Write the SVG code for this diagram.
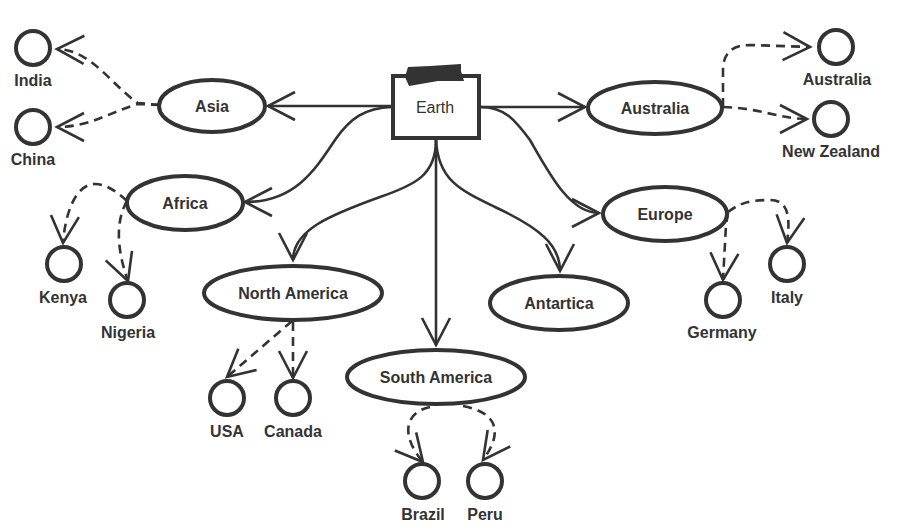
<svg xmlns="http://www.w3.org/2000/svg" width="903" height="532" viewBox="0 0 903 532">
<style>
.bg{fill:#ffffff}
.node{fill:#ffffff;stroke:#333333;stroke-width:4}
.lbl{font-family:"Liberation Sans",Arial,sans-serif;font-weight:bold;font-size:16px;fill:#333333;text-anchor:middle}
.title{font-family:"Liberation Sans",Arial,sans-serif;font-size:16px;fill:#333333;text-anchor:middle}
.solid{fill:none;stroke:#333333;stroke-width:2.6;marker-end:url(#arr)}
.dash{fill:none;stroke:#333333;stroke-width:2.6;stroke-dasharray:9 6;marker-end:url(#arr)}
</style>
<defs>
<marker id="arr" markerUnits="userSpaceOnUse" markerWidth="40" markerHeight="40" viewBox="-30 -20 40 40" refX="0" refY="0" orient="auto" overflow="visible">
<path d="M-27,-14 L0,0 L-27,14" fill="none" stroke="#333333" stroke-width="2.6" stroke-dasharray="none"/>
</marker>
</defs>
<rect class="bg" x="0" y="0" width="903" height="532"/>
<g id="connectors">
<path class="solid" d="M392,106 L268,106"/>
<path class="solid" d="M480,107 L585,107"/>
<path class="solid" d="M392,107 C365,108 350,118 335,140 C315,170 295,202 245,202"/>
<path class="solid" d="M436,140 C436,175 415,185 380,197 C330,215 293,230 293,260"/>
<path class="solid" d="M436,140 L436,345"/>
<path class="solid" d="M436,140 C438,180 460,190 495,207 C540,228 560,245 560,271"/>
<path class="solid" d="M480,107 C505,107 515,120 530,140 C550,175 570,213 599,213"/>
<path class="dash" d="M160,105 L138,103 C112,86 92,50 57,49"/>
<path class="dash" d="M160,105 L138,104 C110,112 90,127 57,127"/>
<path class="dash" d="M723,107 L723,70 Q723,45 750,45 L810,47"/>
<path class="dash" d="M723,107 C760,108 780,119 807,119"/>
<path class="dash" d="M127,201 C115,190 105,184 95,184 C75,184 65,215 63,243"/>
<path class="dash" d="M127,201 C117,218 115,245 128,281"/>
<path class="dash" d="M292,321 L227,377"/>
<path class="dash" d="M293,322 L293,378"/>
<path class="dash" d="M430,407 C405,412 400,435 423,462"/>
<path class="dash" d="M463,406 C495,412 505,430 483,460"/>
<path class="dash" d="M728,213 L726,225 L723,280"/>
<path class="dash" d="M728,212 C740,203 750,200 770,200 C790,200 790,220 787,243"/>
</g>
<g id="earth">
<rect class="node" x="393" y="76" width="86" height="62"/>
<polygon points="408,67 430,66 461,64 461,71 464,81 438,81 409,86 405,77" fill="#333333"/>
<text class="title" x="435" y="113">Earth</text>
</g>
<g id="asia"><ellipse class="node" cx="212" cy="106" rx="53" ry="26"/><text class="lbl" x="212" y="112">Asia</text></g>
<g id="australia"><ellipse class="node" cx="655" cy="108" rx="67" ry="26"/><text class="lbl" x="655" y="114">Australia</text></g>
<g id="africa"><ellipse class="node" cx="185" cy="203" rx="58" ry="27"/><text class="lbl" x="185" y="209">Africa</text></g>
<g id="europe"><ellipse class="node" cx="665" cy="214" rx="62" ry="27"/><text class="lbl" x="665" y="220">Europe</text></g>
<g id="north-america"><ellipse class="node" cx="293" cy="293" rx="89" ry="27"/><text class="lbl" x="293" y="299">North America</text></g>
<g id="antartica"><ellipse class="node" cx="559" cy="303" rx="69" ry="27"/><text class="lbl" x="559" y="309">Antartica</text></g>
<g id="south-america"><ellipse class="node" cx="436" cy="377" rx="89" ry="27"/><text class="lbl" x="436" y="383">South America</text></g>
<g id="india"><circle class="node" cx="33" cy="48" r="17"/><text class="lbl" x="33" y="86">India</text></g>
<g id="china"><circle class="node" cx="33" cy="127" r="17"/><text class="lbl" x="33" y="165">China</text></g>
<g id="australia-c"><circle class="node" cx="836" cy="47" r="17"/><text class="lbl" x="837" y="85">Australia</text></g>
<g id="new-zealand"><circle class="node" cx="831" cy="119" r="17"/><text class="lbl" x="831" y="157">New Zealand</text></g>
<g id="kenya"><circle class="node" cx="64" cy="264" r="17"/><text class="lbl" x="63" y="303">Kenya</text></g>
<g id="nigeria"><circle class="node" cx="127" cy="300" r="17"/><text class="lbl" x="128" y="338">Nigeria</text></g>
<g id="germany"><circle class="node" cx="723" cy="300" r="17"/><text class="lbl" x="722" y="338">Germany</text></g>
<g id="italy"><circle class="node" cx="787" cy="264" r="17"/><text class="lbl" x="787" y="303">Italy</text></g>
<g id="usa"><circle class="node" cx="227" cy="398" r="17"/><text class="lbl" x="227" y="437">USA</text></g>
<g id="canada"><circle class="node" cx="293" cy="398" r="17"/><text class="lbl" x="293" y="437">Canada</text></g>
<g id="brazil"><circle class="node" cx="422" cy="481" r="17"/><text class="lbl" x="423" y="520">Brazil</text></g>
<g id="peru"><circle class="node" cx="485" cy="481" r="17"/><text class="lbl" x="485" y="520">Peru</text></g>
</svg>
